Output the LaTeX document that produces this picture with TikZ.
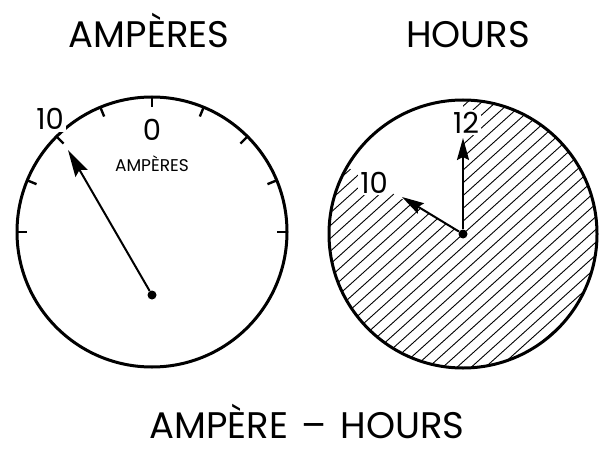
\documentclass[tikz,border=0pt]{standalone}
\usepackage{fontspec}
\setmainfont{Poppins}
\usetikzlibrary{arrows.meta}
\begin{document}
\begin{tikzpicture}[x=1pt,y=1pt,
    dial/.style={line width=3pt},
    tick/.style={line width=2.4pt},
    hatch/.style={line width=0.9pt},
    hand/.style={line width=2pt,-{Stealth[length=22pt,width=12pt,inset=3pt]}},
    bighand/.style={line width=2pt,-{Stealth[length=27pt,width=14pt,inset=4pt]}},
    pivot/.style={circle,fill=black,inner sep=0pt,minimum size=9pt},
    title/.style={font=\fontsize{37}{40}\selectfont,anchor=base,inner sep=0pt,text depth=0pt},
    num/.style={font=\fontsize{29}{30}\selectfont,anchor=base,inner sep=2pt,fill=white},
]
\useasboundingbox (0,0) rectangle (602,448);
% titles
\node[title] (tamp) at (149,400) {AMPÈRES};
\node[title] (thrs) at (468,400) {HOURS};
\node[title,font=\fontsize{37}{40}\selectfont] (tah) at (307,10) {AMPÈRE\hspace{4pt} – \hspace{4pt}HOURS};
% left dial
\coordinate (lc) at (152,216);
\draw[dial] (lc) circle[radius=135];
\foreach \a in {0,22.5,...,180}
  \draw[tick] (lc) ++(\a:135) -- ++(\a:-10);
\node[num] (l10) at (50,318) {10};
\node[num] (l0) at (152,308) {0};
\node[anchor=base,inner sep=0pt,text depth=0pt,font=\fontsize{17}{18}\selectfont] (lunit) at (152,277) {AMPÈRES};
\node[pivot] (lp) at (152,153) {};
\coordinate (ltip) at (68,298);
\draw[bighand] (lp) -- (ltip);
% right dial
\coordinate (rc) at (463,214);
\begin{scope}
  \clip (rc) -- ++(150:134) arc[start angle=150,end angle=450,radius=134] -- cycle;
  \begin{scope}[shift={(rc)},rotate=42]
    \foreach \d in {-15,...,15}
      \draw[hatch] (-150,\d*9.5) -- (150,\d*9.5);
  \end{scope}
\end{scope}
\node[num] (r12) at (466,315) {12};
\node[num] (r10) at (374,255) {10};
\draw[dial] (rc) circle[radius=134];
\node[pivot] (rp) at (rc) {};
\coordinate (rtwelve) at (463,310);
\coordinate (rten) at (402,251);
\draw[hand] (rp) -- (rtwelve);
\draw[hand] (rp) -- (rten);
\end{tikzpicture}
\end{document}
